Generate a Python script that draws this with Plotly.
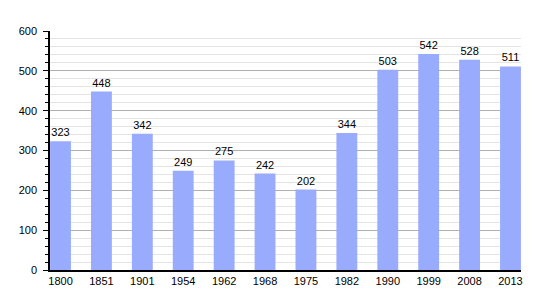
import plotly.graph_objects as go

years = ["1800", "1851", "1901", "1954", "1962", "1968", "1975", "1982", "1990", "1999", "2008", "2013"]
population = [323, 448, 342, 249, 275, 242, 202, 344, 503, 542, 528, 511]

fig = go.Figure()
fig.add_trace(go.Bar(
    x=years, y=population,
    marker=dict(color="#99abfd", line=dict(width=0)),
    width=0.51,
    text=[str(v) for v in population],
    textposition="outside",
    textfont=dict(family="Liberation Sans, Arial", size=11, color="black"),
    cliponaxis=False,
))

fig.update_layout(
    width=550, height=300,
    margin=dict(l=50, r=29, t=31, b=30),
    paper_bgcolor="white", plot_bgcolor="white",
    showlegend=False,
    font=dict(family="Liberation Sans, Arial", size=11, color="black"),
    bargap=0.49,
)
fig.update_xaxes(
    type="category", range=[-0.257, 11.257],
    showline=True, linecolor="black", linewidth=1.5,
    ticks="", showgrid=False, tickfont=dict(size=11),
)
fig.update_yaxes(
    range=[0, 600], dtick=100,
    showline=True, linecolor="black", linewidth=1.5,
    ticks="outside", ticklen=5, tickcolor="black",
    ticklabelstandoff=4,
    showgrid=True, gridcolor="#b0b0b0", gridwidth=1,
    minor=dict(dtick=20, showgrid=True, gridcolor="#e4e4e4", ticks="outside", ticklen=3, tickcolor="black"),
    zeroline=False, tickfont=dict(size=11),
)

fig.write_html("out.html")
